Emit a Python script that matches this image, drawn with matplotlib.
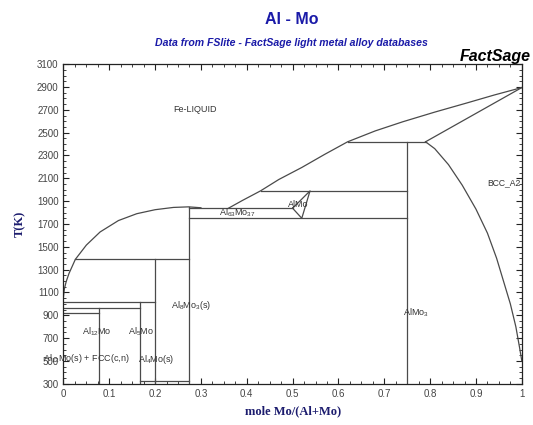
import numpy as np
import matplotlib
matplotlib.use('Agg')
import matplotlib.pyplot as plt
from matplotlib.ticker import MultipleLocator

plt.rcParams['font.family'] = ['Liberation Sans', 'DejaVu Sans']
plt.rcParams['mathtext.fontset'] = 'custom'
plt.rcParams['mathtext.rm'] = 'Liberation Sans'
plt.rcParams['mathtext.default'] = 'regular'

# liquidus, Al side (x, T)
liq_al_x = [0.0, 0.002, 0.006, 0.012, 0.026, 0.05, 0.08, 0.12, 0.16, 0.2, 0.24, 0.273, 0.30]
liq_al_t = [1060, 1130, 1195, 1265, 1390, 1515, 1630, 1730, 1790, 1825, 1845, 1850, 1842]

# liquidus, Mo side
liq_mo_x = [0.36, 0.39, 0.43, 0.47, 0.52, 0.57, 0.62, 0.68, 0.74, 0.81, 0.88, 0.94, 1.0]
liq_mo_t = [1838, 1905, 1990, 2090, 2195, 2310, 2420, 2515, 2595, 2680, 2760, 2830, 2895]

# BCC_A2 boundary
bcc_x = [0.79, 0.81, 0.84, 0.87, 0.90, 0.925, 0.945, 0.96, 0.975, 0.987, 0.995, 1.0]
bcc_t = [2420, 2360, 2220, 2040, 1830, 1620, 1400, 1200, 1000, 800, 620, 500]

# solidus to Mo
sol_x = [0.79, 1.0]
sol_t = [2420, 2895]

# invariant lines: (T, x_start, x_end)
horiz = [
    (923, 0.0, 0.077),
    (961, 0.0, 0.167),
    (1016, 0.0, 0.2),
    (1390, 0.026, 0.273),
    (1750, 0.273, 0.75),
    (1838, 0.273, 0.50),
    (1990, 0.43, 0.75),
    (2420, 0.62, 0.79),
    (320, 0.167, 0.273),
]

# compound lines: (x, T_low, T_high)
vert = [
    (0.077, 300, 961),
    (0.167, 300, 1016),
    (0.2, 300, 1390),
    (0.273, 300, 1848),
    (0.75, 300, 2420),
]

# AlMo triangle
almo_x = [0.50, 0.52, 0.538, 0.50]
almo_t = [1838, 1750, 1990, 1838]

labels = [
    (0.24, 2700, 'Fe-LIQUID'),
    (0.925, 2060, 'BCC_A2'),
    (0.74, 918, r'AlMo$_3$'),
    (0.234, 990, r'Al$_8$Mo$_3$(s)'),
    (0.04, 760, r'Al$_{12}$Mo'),
    (0.14, 760, r'Al$_5$Mo'),
    (0.162, 514, r'Al$_4$Mo(s)'),
    (-0.044, 523, r'Al$_{12}$Mo(s) + FCC(c,n)'),
    (0.49, 1870, 'AlMo'),
    (0.34, 1800, r'Al$_{63}$Mo$_{37}$'),
]

lc = '#4a4a4a'
lw = 0.9

fig = plt.figure(figsize=(5.33, 4.25), dpi=100)
ax = fig.add_axes([0.119, 0.097, 0.860, 0.752])

ax.plot(liq_al_x, liq_al_t, color=lc, lw=lw)
ax.plot(liq_mo_x, liq_mo_t, color=lc, lw=lw)
ax.plot(bcc_x, bcc_t, color=lc, lw=lw)
ax.plot(sol_x, sol_t, color=lc, lw=lw)
for t, x0, x1 in horiz:
    ax.plot([x0, x1], [t, t], color=lc, lw=lw)
for x, t0, t1 in vert:
    ax.plot([x, x], [t0, t1], color=lc, lw=lw)
ax.plot(almo_x, almo_t, color=lc, lw=lw)

for x, t, s in labels:
    fs = 6.2 if s == 'BCC_A2' else 6.5
    ax.text(x, t, s, fontsize=fs, color='#333333', ha='left', va='center', clip_on=False)

ax.set_xlim(0, 1)
ax.set_ylim(300, 3100)
ax.set_xticks(np.arange(0, 1.01, 0.1))
ax.set_xticklabels(['0', '0.1', '0.2', '0.3', '0.4', '0.5', '0.6', '0.7', '0.8', '0.9', '1'])
ax.set_yticks(np.arange(300, 3101, 200))
ax.xaxis.set_minor_locator(MultipleLocator(0.025))
ax.yaxis.set_minor_locator(MultipleLocator(50))
ax.tick_params(which='both', direction='in', top=True, right=True, labelsize=7,
               labelcolor='#444444', color='#222222')
ax.tick_params(which='major', length=4, width=0.8)
ax.tick_params(which='minor', length=2, width=0.6)
for sp in ax.spines.values():
    sp.set_linewidth(0.9)
    sp.set_color('#222222')

ax.set_xlabel('mole Mo/(Al+Mo)', family='Liberation Serif', fontweight='bold',
              fontsize=9, color='#1c1c6e', labelpad=5)
ax.set_ylabel('T(K)', family='Liberation Serif', fontweight='bold',
              fontsize=9, color='#1c1c6e', labelpad=8)

fig.text(0.547, 0.955, 'Al - Mo', ha='center', va='center', fontsize=11.5,
         fontweight='bold', color='#1a1aa8')
fig.text(0.547, 0.899, 'Data from FSlite - FactSage light metal alloy databases',
         ha='center', va='center', fontsize=7.6, fontweight='bold', style='italic',
         color='#1a1aa8')
fig.text(0.995, 0.868, 'FactSage', ha='right', va='center', fontsize=11.5,
         fontweight='bold', style='italic', color='black')

fig.savefig('out.png', dpi=100)
